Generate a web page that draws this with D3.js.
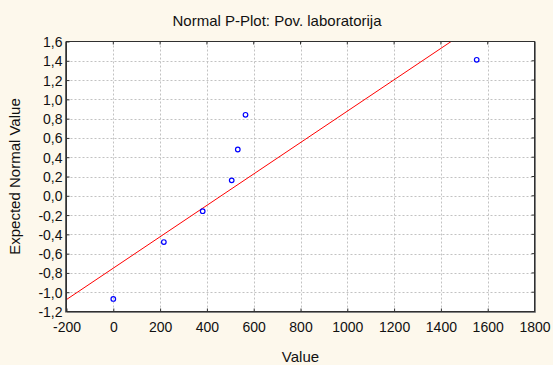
<!DOCTYPE html>
<html><head><meta charset="utf-8">
<script src="https://cdn.jsdelivr.net/npm/d3@7"></script>
<style>
html,body{margin:0;padding:0;background:#fdf8ec;}
svg{display:block;font-family:"Liberation Sans",Arial,sans-serif;}
</style></head>
<body>
<svg id="chart" width="553" height="365"></svg>
<script>
const title = "Normal P-Plot: Pov. laboratorija";
const xLabel = "Value";
const yLabel = "Expected Normal Value";
const obsValues = [0, 216, 382, 506, 532, 565, 1553];
const expectedNormal = [-1.07, -0.48, -0.16, 0.16, 0.48, 0.84, 1.41];
const fitLineX = [-200, 1800];
const fitLineY = [-1.076, -1.076 + 2000 * 0.001628];
const xTicks = [-200, 0, 200, 400, 600, 800, 1000, 1200, 1400, 1600, 1800];
const yTicks = [-1.2, -1.0, -0.8, -0.6, -0.4, -0.2, 0.0, 0.2, 0.4, 0.6, 0.8, 1.0, 1.2, 1.4, 1.6];

const svg = d3.select("#chart");
const L = 66.5, R = 534.5, T = 41.5, B = 311.5;
const x = d3.scaleLinear().domain([-200, 1800]).range([L, R]);
const y = d3.scaleLinear().domain([-1.2, 1.6]).range([B, T]);
const fmt = v => d3.format(".1f")(v).replace(".", ",").replace("−", "-");

svg.append("rect").attr("x", L).attr("y", T).attr("width", R - L).attr("height", B - T).attr("fill", "#ffffff");

// grid
const grid = svg.append("g").attr("stroke", "#c2c2c2").attr("stroke-width", 1).attr("stroke-dasharray", "2,2");
grid.selectAll("line.gx").data(xTicks.slice(1, -1)).join("line")
  .attr("x1", d => Math.round(x(d)) + 0.5).attr("x2", d => Math.round(x(d)) + 0.5)
  .attr("y1", T).attr("y2", B);
grid.selectAll("line.gy").data(yTicks.slice(1, -1)).join("line")
  .attr("y1", d => Math.round(y(d)) + 0.5).attr("y2", d => Math.round(y(d)) + 0.5)
  .attr("x1", L).attr("x2", R);

// clip
svg.append("clipPath").attr("id", "clip").append("rect")
  .attr("x", L).attr("y", T).attr("width", R - L).attr("height", B - T);

// fit line
svg.append("line").attr("clip-path", "url(#clip)")
  .attr("x1", x(fitLineX[0])).attr("y1", y(fitLineY[0]))
  .attr("x2", x(fitLineX[1])).attr("y2", y(fitLineY[1]))
  .attr("stroke", "#ff0000").attr("stroke-width", 1);

// points
svg.append("g").selectAll("circle").data(obsValues).join("circle")
  .attr("cx", (d) => x(d)).attr("cy", (d, i) => y(expectedNormal[i]))
  .attr("r", 2.3).attr("fill", "none").attr("stroke", "#0000ff").attr("stroke-width", 1.2);

// axes
const xAxis = d3.axisBottom(x).tickValues(xTicks).tickSize(3).tickFormat(d => String(d));
const gx = svg.append("g").attr("transform", `translate(0,${B})`).call(xAxis);
gx.select(".domain").remove();
gx.selectAll(".tick line").attr("stroke", "#333").attr("y2", -3);
gx.selectAll("text").attr("font-size", 14).attr("fill", "#111").attr("dy", null).attr("y", 20.5);

const yAxis = d3.axisLeft(y).tickValues(yTicks).tickSize(3).tickFormat(fmt);
const gy = svg.append("g").attr("transform", `translate(${L},0)`).call(yAxis);
gy.select(".domain").remove();
gy.selectAll(".tick line").attr("stroke", "#333").attr("x2", 3);
gy.selectAll("text").attr("font-size", 14).attr("fill", "#111").attr("x", -4).attr("dy", "0.36em");

// top and right ticks
svg.append("g").selectAll("line").data(xTicks).join("line")
  .attr("x1", d => x(d)).attr("x2", d => x(d)).attr("y1", T).attr("y2", T + 3).attr("stroke", "#333");
svg.append("g").selectAll("line").data(yTicks).join("line")
  .attr("y1", d => y(d)).attr("y2", d => y(d)).attr("x1", R).attr("x2", R - 3).attr("stroke", "#333");

// frame
svg.append("rect").attr("x", L).attr("y", T).attr("width", R - L).attr("height", B - T)
  .attr("fill", "none").attr("stroke", "#303030").attr("stroke-width", 1);
svg.append("line").attr("x1", L).attr("x2", R + 1).attr("y1", B + 1).attr("y2", B + 1).attr("stroke", "#808080");
svg.append("line").attr("x1", R + 1).attr("x2", R + 1).attr("y1", T).attr("y2", B + 1).attr("stroke", "#808080");
svg.append("line").attr("x1", L - 1).attr("x2", L - 1).attr("y1", T).attr("y2", B + 1).attr("stroke", "#606060");

// titles
svg.append("text").attr("x", 277).attr("y", 26).attr("text-anchor", "middle")
  .attr("font-size", 15).attr("fill", "#111").text(title);
svg.append("text").attr("x", x(800)).attr("y", 362).attr("text-anchor", "middle")
  .attr("font-size", 15).attr("fill", "#111").text(xLabel);
svg.append("text").attr("transform", `translate(20,${(T + B) / 2}) rotate(-90)`).attr("text-anchor", "middle")
  .attr("font-size", 15).attr("fill", "#111").text(yLabel);
</script>
</body></html>
